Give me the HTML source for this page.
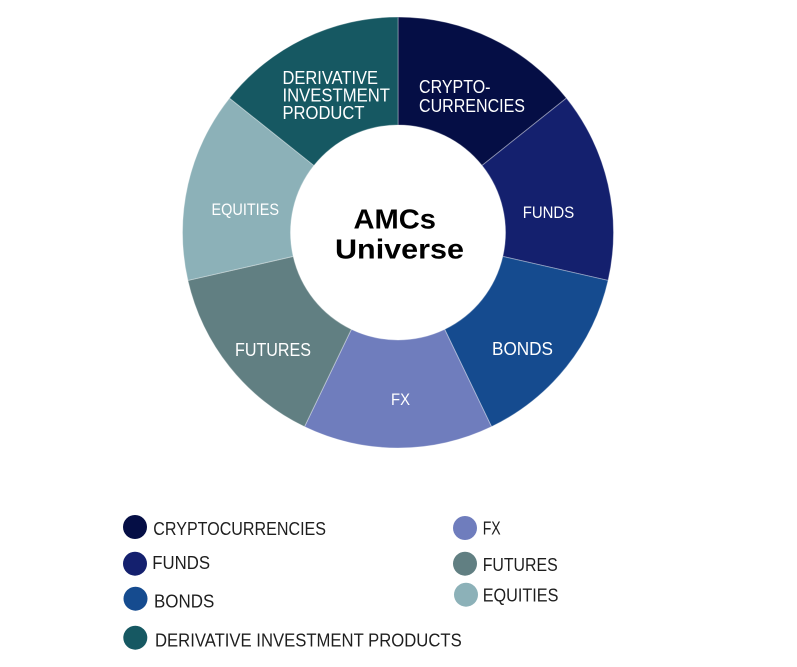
<!DOCTYPE html>
<html>
<head>
<meta charset="utf-8">
<style>
html,body{margin:0;padding:0;background:#ffffff;}
svg{display:block;}
text{font-family:"Liberation Sans",Arial,sans-serif;}
</style>
</head>
<body>
<svg width="797" height="667" viewBox="0 0 797 667" xmlns="http://www.w3.org/2000/svg">
  <rect width="797" height="667" fill="#ffffff"/>
  <g stroke="#ffffff" stroke-opacity="0.35" stroke-width="1">
    <path d="M398,17 A215.5,215.5 0 0 1 566.49,98.14 L482.05,165.47 A107.5,107.5 0 0 0 398,125 Z" fill="#050e45"/>
    <path d="M566.49,98.14 A215.5,215.5 0 0 1 608.10,280.45 L502.80,256.42 A107.5,107.5 0 0 0 482.05,165.47 Z" fill="#14206e"/>
    <path d="M608.10,280.45 A215.5,215.5 0 0 1 491.50,426.66 L444.64,329.35 A107.5,107.5 0 0 0 502.80,256.42 Z" fill="#154b8f"/>
    <path d="M491.50,426.66 A215.5,215.5 0 0 1 304.50,426.66 L351.36,329.35 A107.5,107.5 0 0 0 444.64,329.35 Z" fill="#6f7dbd"/>
    <path d="M304.50,426.66 A215.5,215.5 0 0 1 187.90,280.45 L293.20,256.42 A107.5,107.5 0 0 0 351.36,329.35 Z" fill="#617f82"/>
    <path d="M187.90,280.45 A215.5,215.5 0 0 1 229.51,98.14 L313.95,165.47 A107.5,107.5 0 0 0 293.20,256.42 Z" fill="#8cb1b8"/>
    <path d="M229.51,98.14 A215.5,215.5 0 0 1 398,17 L398,125 A107.5,107.5 0 0 0 313.95,165.47 Z" fill="#165862"/>
  </g>

  <g fill="#ffffff" font-size="18">
    <text x="282.5" y="84" textLength="95.5" lengthAdjust="spacingAndGlyphs">DERIVATIVE</text>
    <text x="282.5" y="101.5" textLength="107.5" lengthAdjust="spacingAndGlyphs">INVESTMENT</text>
    <text x="282.5" y="119" textLength="82" lengthAdjust="spacingAndGlyphs">PRODUCT</text>
    <text x="419" y="93" textLength="71.5" lengthAdjust="spacingAndGlyphs">CRYPTO-</text>
    <text x="419" y="112" textLength="106" lengthAdjust="spacingAndGlyphs">CURRENCIES</text>
    <text x="211.5" y="215" font-size="17" textLength="67.5" lengthAdjust="spacingAndGlyphs">EQUITIES</text>
    <text x="522.7" y="218" font-size="17" textLength="51.5" lengthAdjust="spacingAndGlyphs">FUNDS</text>
    <text x="235" y="356" textLength="76" lengthAdjust="spacingAndGlyphs">FUTURES</text>
    <text x="391" y="405" font-size="17" textLength="19" lengthAdjust="spacingAndGlyphs">FX</text>
    <text x="492" y="355" textLength="61" lengthAdjust="spacingAndGlyphs">BONDS</text>
  </g>

  <g fill="#000000" font-size="28" font-weight="bold">
    <text x="353.5" y="228.5" textLength="82.5" lengthAdjust="spacingAndGlyphs">AMCs</text>
    <text x="335" y="258.5" textLength="129" lengthAdjust="spacingAndGlyphs">Universe</text>
  </g>

  <g>
    <circle cx="135" cy="527" r="12" fill="#050e45"/>
    <circle cx="135" cy="563.7" r="12" fill="#14206e"/>
    <circle cx="135.5" cy="598.7" r="12" fill="#154b8f"/>
    <circle cx="135.3" cy="637.7" r="12" fill="#165862"/>
    <circle cx="465" cy="528" r="12" fill="#6f7dbd"/>
    <circle cx="465" cy="563.7" r="12" fill="#617f82"/>
    <circle cx="466" cy="594.7" r="12" fill="#8cb1b8"/>
  </g>
  <g fill="#1e1e1e" font-size="18">
    <text x="153.3" y="535" textLength="172.7" lengthAdjust="spacingAndGlyphs">CRYPTOCURRENCIES</text>
    <text x="152.3" y="569" textLength="57.7" lengthAdjust="spacingAndGlyphs">FUNDS</text>
    <text x="154" y="607.7" textLength="60.3" lengthAdjust="spacingAndGlyphs">BONDS</text>
    <text x="155" y="646.7" textLength="306.7" lengthAdjust="spacingAndGlyphs">DERIVATIVE INVESTMENT PRODUCTS</text>
    <text x="482.7" y="534.3" textLength="18" lengthAdjust="spacingAndGlyphs">FX</text>
    <text x="482.7" y="571" textLength="75" lengthAdjust="spacingAndGlyphs">FUTURES</text>
    <text x="482.7" y="601.3" textLength="75.7" lengthAdjust="spacingAndGlyphs">EQUITIES</text>
  </g>
</svg>
</body>
</html>
